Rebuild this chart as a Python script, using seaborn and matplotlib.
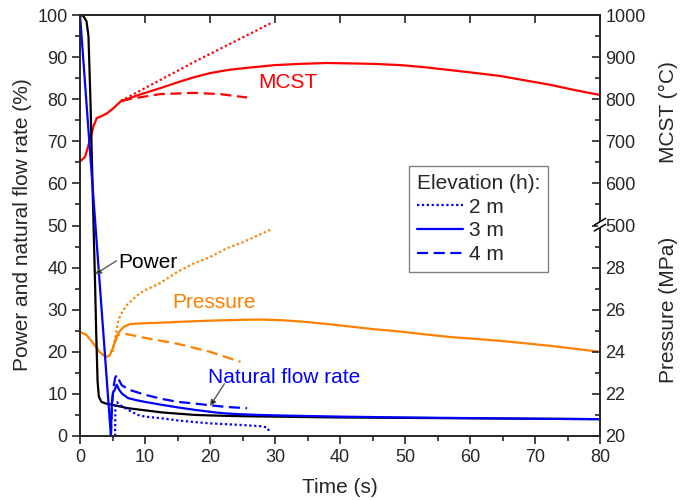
import numpy as np
import matplotlib
matplotlib.use("Agg")
import matplotlib.pyplot as plt
from matplotlib.lines import Line2D
from matplotlib.ticker import MultipleLocator, FixedLocator, FixedFormatter
import seaborn as sns

# ---------------- data ----------------
# Reactor power (%)
power_t = [0, 0.5, 1.0, 1.3, 1.6, 2.0, 2.3, 2.5, 2.7, 2.9, 3.3, 4.0, 5.0, 7.4, 10, 12.6, 17.7, 20.8, 25, 30, 40, 50, 60, 70, 80]
power_pct = [100, 99.8, 98.5, 95, 80, 55, 37, 24, 13, 9.3, 8.1, 7.7, 7.4, 6.6, 6.1, 5.6, 5.0, 4.85, 4.7, 4.6, 4.4, 4.3, 4.2, 4.1, 4.0]

# Natural circulation flow rate (%) for elevations 2 m, 3 m, 4 m
flow2_t = [5.4, 5.45, 5.7, 6.5, 7.4, 8.9, 10, 12.6, 15, 17.7, 20, 25, 28, 28.8, 29.2]
flow2_pct = [0, 7.8, 8.0, 7.0, 6.2, 5.0, 4.6, 4.2, 3.7, 3.3, 3.0, 2.6, 2.3, 2.0, 0.9]
flow3_t = [0, 4.75, 4.9, 5.1, 5.3, 5.65, 6.0, 6.5, 7.4, 8.7, 10, 12.6, 15, 17.7, 20.8, 22.5, 25, 27.5, 30, 35, 40, 50, 60, 70, 80]
flow3_pct = [100, 0, 8, 10.5, 10.8, 12.2, 11.0, 10.0, 9.0, 8.5, 8.1, 7.4, 6.8, 6.2, 5.6, 5.35, 5.15, 5.0, 4.9, 4.75, 4.6, 4.4, 4.25, 4.1, 4.0]
flow4_t = [4.75, 4.85, 5.0, 5.2, 5.4, 5.65, 6.0, 6.4, 7.5, 10, 12.6, 15.1, 17.7, 20, 22.5, 25.7]
flow4_pct = [0, 5, 9, 12, 13.8, 14.5, 13.3, 12.1, 11.0, 9.8, 8.8, 8.1, 7.7, 7.3, 6.9, 6.6]

# System pressure (MPa)
pres2_t = [5.0, 5.5, 5.9, 6.5, 7.2, 8.5, 9.7, 12.3, 15, 17.5, 20, 22.6, 25, 29.3]
pres2_mpa = [24.0, 24.8, 25.5, 25.9, 26.22, 26.6, 26.88, 27.26, 27.8, 28.2, 28.5, 28.92, 29.2, 29.8]
pres3_t = [0, 1, 2, 3, 3.6, 4.1, 4.6, 5.1, 5.5, 5.9, 6.7, 7.7, 10, 12.3, 15, 20, 25, 28, 31, 34, 38, 41.6, 45, 49.3, 53, 57, 61, 64.7, 68, 72.4, 76, 80]
pres3_mpa = [24.94, 24.8, 24.42, 24.0, 23.84, 23.76, 23.84, 24.22, 24.6, 24.9, 25.18, 25.32, 25.36, 25.38, 25.42, 25.48, 25.52, 25.53, 25.5, 25.44, 25.32, 25.2, 25.08, 24.96, 24.83, 24.7, 24.61, 24.52, 24.42, 24.28, 24.15, 24.0]
pres4_t = [5.3, 5.8, 7.2, 10, 15, 20, 24.7]
pres4_mpa = [24.4, 24.8, 24.84, 24.66, 24.38, 24.0, 23.52]

# Maximum cladding surface temperature (°C)
mcst2_t = [6.3, 17.5, 29.3]
mcst2_c = [796, 888, 980]
mcst3_t = [0, 0.77, 1.54, 2.05, 2.57, 3.34, 4.1, 5.1, 6.2, 7.2, 9, 12.3, 15, 17.5, 20, 23, 26, 30, 34, 38, 41.6, 45, 49.3, 53, 57, 61, 64.7, 68, 72.4, 76, 80]
mcst3_c = [652, 663, 703, 735, 755, 760, 766, 778, 794, 800, 810, 826, 840, 852, 862, 870, 875, 881, 884, 886, 885, 884, 881, 876, 869, 862, 855, 846, 834, 822, 810]
mcst4_t = [6.3, 8.2, 12.3, 17.5, 21.6, 25.7]
mcst4_c = [796, 802, 812, 815, 812, 804]

# Right-hand axis: lower half is pressure (MPa), upper half is MCST (°C)
right_tick_pos = [0, 10, 20, 30, 40, 50, 60, 70, 80, 90, 100]
right_tick_labels = ["20", "22", "24", "26", "28", "500", "600", "700", "800", "900", "1000"]
legend_labels = ["2 m", "3 m", "4 m"]


def pressure_to_left(p):
    return (np.asarray(p, dtype=float) - 20.0) * 5.0


def mcst_to_left(t):
    return np.asarray(t, dtype=float) / 10.0


# ---------------- style ----------------
sns.set_style("ticks")
plt.rcParams["font.family"] = ["Liberation Sans", "DejaVu Sans"]
plt.rcParams["axes.linewidth"] = 1.2

RED = "#ff0000"
ORANGE = "#ff8000"
BLUE = "#0000ff"
LW = 1.6
DOT = (0, (1, 1.2))
DASH = (0, (5, 2.5))

fig = plt.figure(figsize=(6.94, 5.0), dpi=100)
ax = fig.add_axes([0.1153, 0.128, 0.7493, 0.842])


def draw(t, y, color, ls):
    sns.lineplot(x=t, y=y, ax=ax, color=color, lw=LW, linestyle=ls,
                 estimator=None, sort=False, legend=False)


# MCST
draw(mcst2_t, mcst_to_left(mcst2_c), RED, DOT)
draw(mcst4_t, mcst_to_left(mcst4_c), RED, DASH)
draw(mcst3_t, mcst_to_left(mcst3_c), RED, "-")
# Pressure
draw(pres2_t, pressure_to_left(pres2_mpa), ORANGE, DOT)
draw(pres4_t, pressure_to_left(pres4_mpa), ORANGE, DASH)
draw(pres3_t, pressure_to_left(pres3_mpa), ORANGE, "-")
# Power
draw(power_t, power_pct, "black", "-")
# Natural flow rate
draw(flow2_t, flow2_pct, BLUE, DOT)
draw(flow4_t, flow4_pct, BLUE, DASH)
draw(flow3_t, flow3_pct, BLUE, "-")

ax.set_xlim(0, 80)
ax.set_ylim(0, 100)
ax.xaxis.set_major_locator(MultipleLocator(10))
ax.xaxis.set_minor_locator(MultipleLocator(5))
ax.yaxis.set_major_locator(MultipleLocator(10))
ax.yaxis.set_minor_locator(MultipleLocator(5))
ax.tick_params(which="major", direction="out", length=6, width=1.2, labelsize=13, pad=3)
ax.tick_params(which="minor", direction="out", length=3.5, width=1.2)
ax.set_xlabel("Time (s)", fontsize=15, labelpad=9)
ax.set_ylabel("")
fig.text(23 / 694, 1 - 225 / 500, "Power and natural flow rate (%)", rotation=90,
         ha="center", va="center", fontsize=15)

# top axis: inward major ticks, no labels
top = ax.secondary_xaxis("top")
top.xaxis.set_major_locator(MultipleLocator(10))
top.tick_params(direction="in", length=6, width=1.2, labeltop=False)
top.spines["top"].set_linewidth(1.2)

# right axis: pressure below the break, MCST above it
ax2 = ax.twinx()
ax2.set_ylim(0, 100)
ax2.yaxis.set_major_locator(FixedLocator(right_tick_pos))
ax2.yaxis.set_major_formatter(FixedFormatter(right_tick_labels))
ax2.yaxis.set_minor_locator(MultipleLocator(5))
ax2.tick_params(which="major", direction="in", length=6, width=1.2, labelsize=13, pad=4)
ax2.tick_params(which="minor", direction="in", length=3.5, width=1.2)
for s in ax2.spines.values():
    s.set_linewidth(1.2)
ax2.text(1.131, 0.77, "MCST (\u00b0C)", rotation=90, ha="center", va="center",
         fontsize=15, transform=ax2.transAxes)
ax2.text(1.131, 0.30, "Pressure (MPa)", rotation=90, ha="center", va="center",
         fontsize=15, transform=ax2.transAxes)

# axis break marks on the right spine at the pressure/MCST boundary
ax2.plot([1, 1], [0.494, 0.508], color="white", lw=3, transform=ax2.transAxes,
         clip_on=False, zorder=10, solid_capstyle="butt")
for off in (-0.006, 0.008):
    ax2.plot([0.989, 1.011], [0.493 + off, 0.509 + off], color="black", lw=1.1,
             transform=ax2.transAxes, clip_on=False, zorder=11)

# curve labels
ax.text(27.4, 84.0, "MCST", color=RED, fontsize=15, ha="left", va="center")
ax.text(14.2, 31.6, "Pressure", color=ORANGE, fontsize=15, ha="left", va="center")
ax.text(19.7, 14.0, "Natural flow rate", color=BLUE, fontsize=15, ha="left", va="center")
ax.text(5.85, 41.1, "Power", color="black", fontsize=15, ha="left", va="center")
ax.annotate("", xy=(2.3, 38.4), xytext=(5.6, 41.6),
            arrowprops=dict(arrowstyle="-|>", mutation_scale=9, lw=1.0,
                            ec="0.35", fc="black", shrinkA=0, shrinkB=0))
ax.annotate("", xy=(20.0, 7.1), xytext=(22.2, 12.4),
            arrowprops=dict(arrowstyle="-|>", mutation_scale=9, lw=1.0,
                            ec="0.35", fc="black", shrinkA=0, shrinkB=0))

# legend for elevation line styles
handles = [Line2D([], [], color=BLUE, lw=LW, linestyle=DOT),
           Line2D([], [], color=BLUE, lw=LW, linestyle="-"),
           Line2D([], [], color=BLUE, lw=LW, linestyle=DASH)]
leg = ax2.legend(handles, legend_labels, title="Elevation (h):", loc="upper left",
                 bbox_to_anchor=(0.633, 0.641), borderaxespad=0, fontsize=15,
                 title_fontsize=15, frameon=True, fancybox=False, framealpha=1,
                 edgecolor="0.5", handlelength=2.2, handletextpad=0.3,
                 labelspacing=0.22, borderpad=0.38, alignment="left")
leg.get_frame().set_linewidth(1.0)

fig.savefig("out.png", dpi=100)
